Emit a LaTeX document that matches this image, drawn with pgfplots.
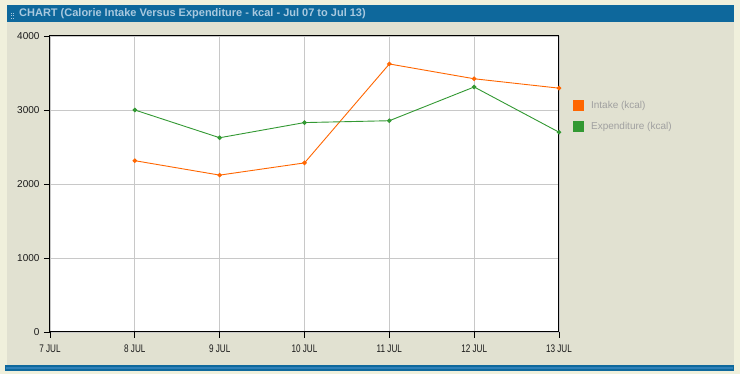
\documentclass[border=0pt]{standalone}
\usepackage{pgfplots}
\pgfplotsset{compat=1.18}
\usepackage{graphicx}
\usepackage{fontspec}
\setmainfont{Liberation Sans}
\definecolor{outerbg}{HTML}{F0F0DC}
\definecolor{panelbg}{HTML}{E1E1D1}
\definecolor{barblue}{HTML}{0E689C}
\definecolor{barlight}{HTML}{2F80B8}
\definecolor{titletext}{HTML}{A9C9DF}
\definecolor{intake}{HTML}{FF6600}
\definecolor{expend}{HTML}{339933}
\definecolor{gridc}{HTML}{C8C8C8}
\definecolor{legtext}{HTML}{A0A0A0}
\definecolor{ticktext}{HTML}{1A1A1A}
\newcommand{\nar}[1]{\scalebox{0.74}[1]{#1}}
\pgfplotstableread{
day intake expend
8 2315 3000
9 2120 2625
10 2285 2830
11 3622 2855
12 3422 3311
13 3295 2700
}\caldata
\begin{document}
\begin{tikzpicture}
\useasboundingbox (0,0) rectangle (740pt,374pt);
\fill[outerbg] (0,0) rectangle (740pt,374pt);
\fill[panelbg] (7pt,9pt) rectangle (734pt,352pt);
\fill[barblue] (7pt,352pt) rectangle (734pt,369pt);
\foreach \yy in {355,357.5,360} {
  \fill[titletext] (10.5pt,\yy pt) rectangle (11.8pt,\yy pt+1.3pt);
  \fill[titletext] (13pt,\yy pt) rectangle (14.3pt,\yy pt+1.3pt);
}
\node[anchor=west, font=\bfseries\fontsize{11}{13}\selectfont, text=titletext, inner sep=0pt] at (19pt,360.5pt) {CHART (Calorie Intake Versus Expenditure - kcal - Jul 07 to Jul 13)};
\fill[barblue] (5pt,3pt) rectangle (734pt,9pt);
\fill[barlight] (6pt,5pt) rectangle (733pt,7pt);
\begin{axis}[
  at={(50pt,42pt)}, anchor=south west,
  scale only axis, width=509pt, height=296pt,
  xmin=7, xmax=13, ymin=0, ymax=4000,
  xtick={7,8,9,10,11,12,13},
  xticklabels={\nar{7 JUL},\nar{8 JUL},\nar{9 JUL},\nar{10 JUL},\nar{11 JUL},\nar{12 JUL},\nar{13 JUL}},
  ytick={0,1000,2000,3000,4000},
  xtick pos=bottom, ytick pos=left,
  tick align=outside,
  major tick length=6pt,
  tick style={black, line width=0.8pt},
  grid=major,
  major grid style={gridc, line width=0.8pt},
  axis line style={black, line width=1pt},
  axis background/.style={fill=white},
  /pgf/number format/assume math mode=true,
  /pgf/number format/1000 sep={},
  yticklabel style={font=\fontsize{10}{12}\selectfont, text=ticktext, xshift=-1pt},
  xticklabel style={font=\fontsize{11}{13}\selectfont, text=ticktext, yshift=-3pt},
  legend image code/.code={\fill[#1] (0pt,-5pt) rectangle (10pt,5pt);},
  legend style={at={(1.0275,0.784)}, anchor=north west, draw=none, fill=none,
    inner sep=0pt, row sep=10pt,
    nodes={inner sep=0pt, text=legtext, font=\fontsize{10}{12}\selectfont},
    /tikz/every odd column/.style={column sep=7pt}},
  legend cell align=left,
]
\addplot[color=intake, line width=0.9pt, mark=*, mark size=1.8pt] table[x=day, y=intake] {\caldata};
\addlegendentry{Intake (kcal)}
\addplot[color=expend, line width=0.9pt, mark=*, mark size=1.8pt] table[x=day, y=expend] {\caldata};
\addlegendentry{Expenditure (kcal)}
\end{axis}
\end{tikzpicture}
\end{document}
